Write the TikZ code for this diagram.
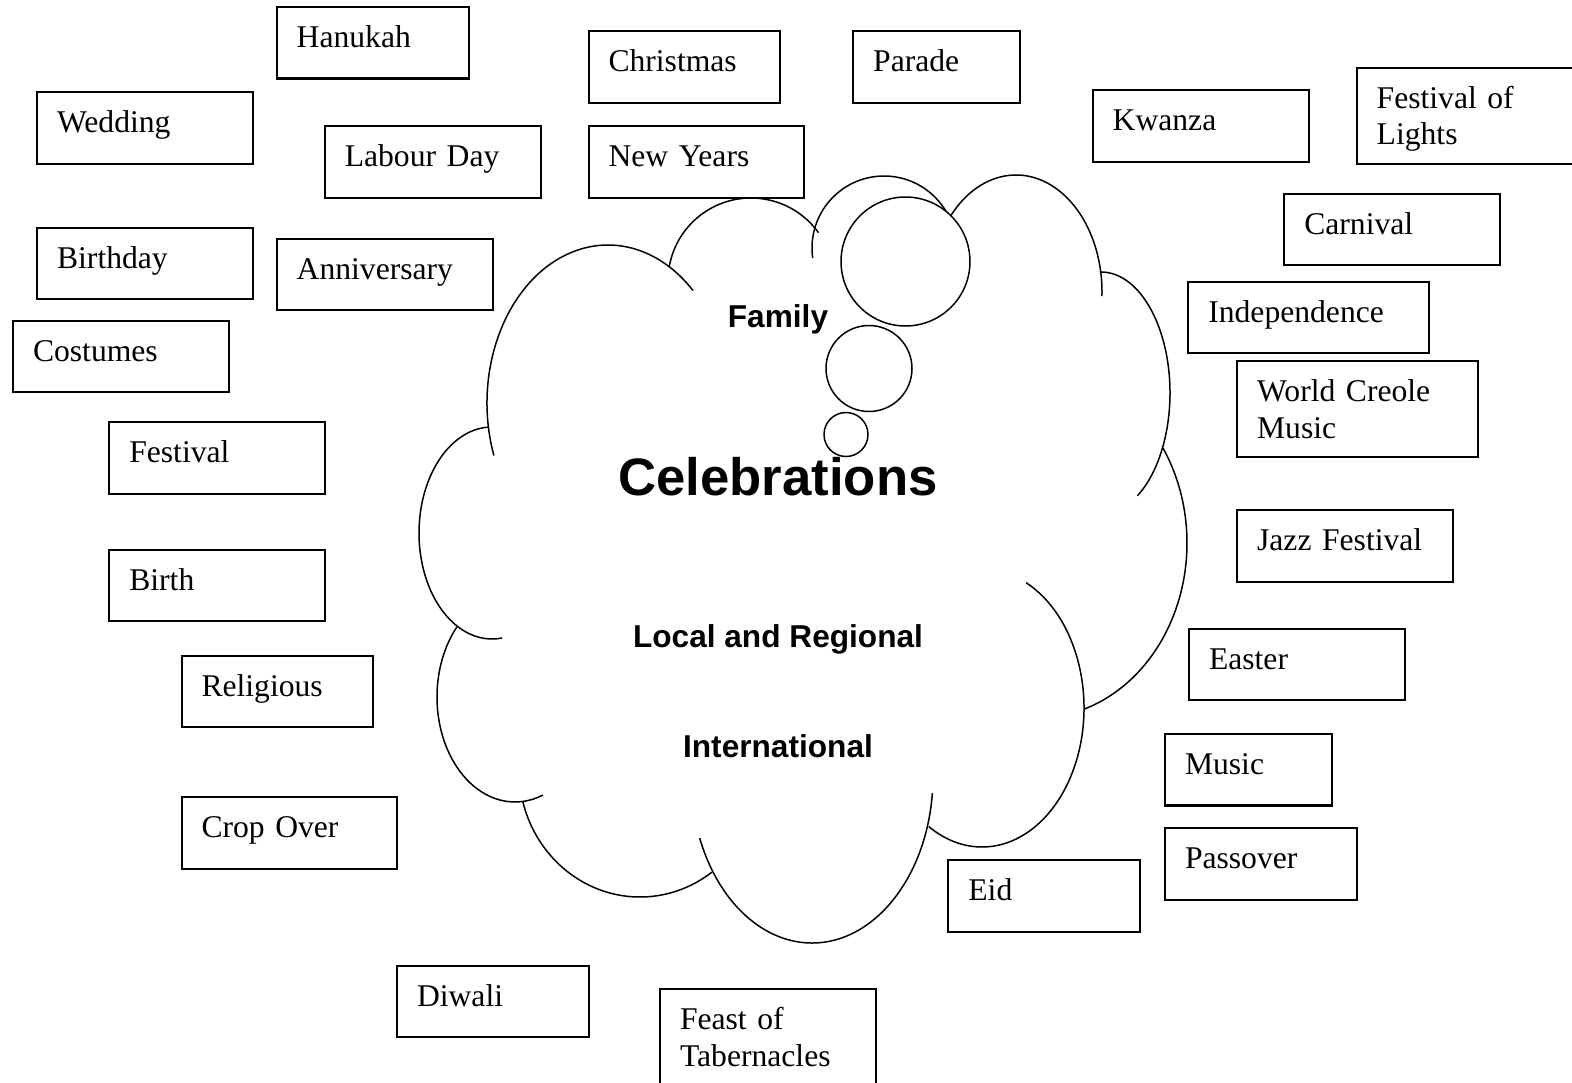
\documentclass[tikz,border=0pt]{standalone}
\usepackage{fontspec}
\setmainfont{Liberation Serif}
\setsansfont{Liberation Sans}
\usetikzlibrary{positioning}

\begin{document}
\begin{tikzpicture}[
    x=0.02cm, y=0.02cm,
    box/.style={draw, line width=1.15pt, anchor=north west, align=left, inner xsep=0.4cm, inner ysep=0pt,
        text width=3.52cm, text height=0.81cm, text depth=0.62cm, font=\fontsize{18}{20.9}\selectfont},
    narrow/.style={text width=3.04cm},
    slim/.style={text width=2.54cm},
    wide/.style={text width=4.02cm},
    twoline/.style={text depth=1.11cm},
    bubble/.style={draw, circle, fill=white, line width=0.85pt, inner sep=0pt},
    cloud/.style={line width=0.85pt},
    lbl/.style={font=\sffamily\bfseries\fontsize{18}{22}\selectfont, anchor=base, inner sep=0pt}]
  \useasboundingbox (0,0) rectangle (1572,-1082);
  % cloud outline, one bump at a time: centre / radii / start / end
  \foreach \cx/\cy/\rx/\ry/\sa/\ea in {608/403/121/158/199.4/45.4, 751/281/83/83/170.4/35.6,
      884/248/72/72/188/15, 1016/292/86/117/145/-2, 1101/393/69/121/91/-58.2,
      1037/543/150/175/32.9/-71.4, 982/708/102/139/64.4/-121.5, 812/776/121/167/-5.9/-158.2,
      640/770/121/127/-165.4/-53.5, 515/697/78/105/138.1/291, 492/533/73/106/93/278}
    \draw[cloud] (\cx,-\cy) ++({\rx*cos(\sa)},{\ry*sin(\sa)}) arc[start angle=\sa, end angle=\ea, x radius=\rx, y radius=\ry];
  \node[bubble, minimum size=2.58cm] (big) at (905.5,-261.5) {};
  \node[bubble, minimum size=1.72cm] (mid) at (869,-368.5) {};
  \node[bubble, minimum size=0.88cm] (tiny) at (846,-434.5) {};
  \node[lbl] (family) at (778,-327) {Family};
  \node[lbl, font=\sffamily\bfseries\fontsize{30}{36}\selectfont] (celebrations) at (778,-495) {Celebrations};
  \node[lbl] (local) at (778,-647) {Local and Regional};
  \node[lbl] (international) at (778,-757) {International};

  \node[box, narrow] (hanukah) at (275.7,-6) {Hanukah};
  \node[box] (wedding) at (36.1,-91.3) {Wedding};
  \node[box] (labour) at (323.8,-125.3) {Labour Day};
  \node[box, narrow] (christmas) at (587.5,-30.1) {Christmas};
  \node[box] (newyears) at (587.5,-125.3) {New Years};
  \node[box, slim] (parade) at (852.2,-30.1) {Parade};
  \node[box] (kwanza) at (1091.7,-89.3) {Kwanza};
  \node[box, twoline] (lights) at (1355.7,-66.7) {Festival of\\Lights};
  \node[box] (carnival) at (1283.3,-192.7) {Carnival};
  \node[box] (birthday) at (36.1,-226.6) {Birthday};
  \node[box] (anniversary) at (275.7,-237.7) {Anniversary};
  \node[box, wide] (independence) at (1187.3,-280.7) {Independence};
  \node[box] (costumes) at (12,-319.9) {Costumes};
  \node[box, wide, twoline] (creole) at (1236.1,-360) {World Creole\\Music};
  \node[box] (festival) at (108.3,-421.2) {Festival};
  \node[box] (jazz) at (1236.1,-509.4) {Jazz Festival};
  \node[box] (birth) at (108.3,-548.5) {Birth};
  \node[box] (easter) at (1188,-627.7) {Easter};
  \node[box, narrow] (religious) at (180.5,-654.8) {Religious};
  \node[box, slim] (music) at (1164,-733) {Music};
  \node[box] (cropover) at (180.5,-796.2) {Crop Over};
  \node[box, narrow] (passover) at (1164,-827.3) {Passover};
  \node[box, narrow] (eid) at (947.4,-859.4) {Eid};
  \node[box, narrow] (diwali) at (396,-964.7) {Diwali};
  \node[box, twoline] (tabernacles) at (659,-988) {Feast of\\Tabernacles};
\end{tikzpicture}
\end{document}
